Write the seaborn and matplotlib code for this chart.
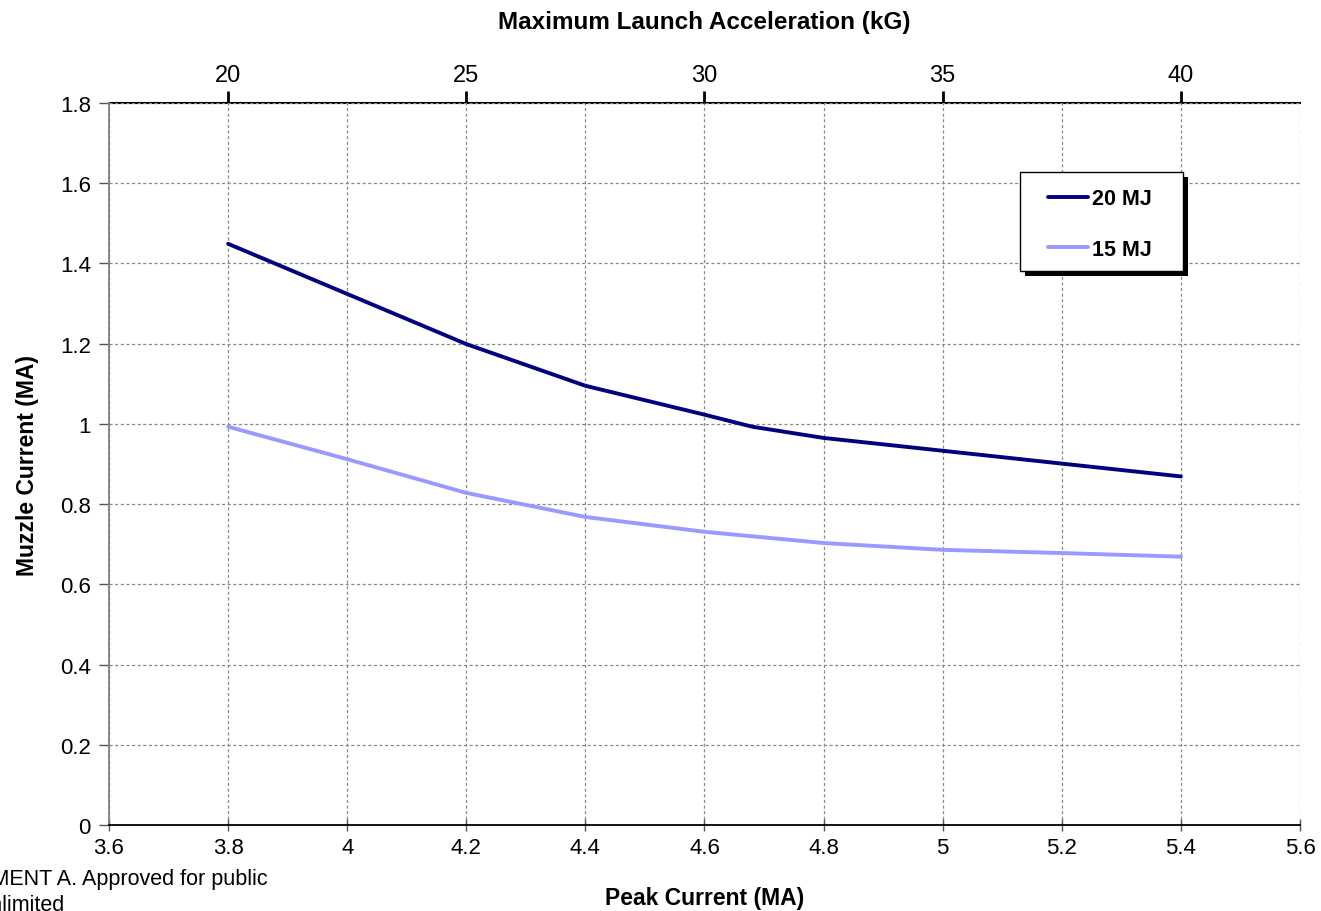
import numpy as np
import pandas as pd
import matplotlib
matplotlib.use("Agg")
import matplotlib.pyplot as plt
from matplotlib.patches import Rectangle
import seaborn as sns

# ---- data ----
peak_20mj = [3.8, 4.0, 4.2, 4.4, 4.6, 4.68, 4.8, 5.0, 5.2, 5.4]
muzzle_20mj = [1.449, 1.324, 1.199, 1.095, 1.023, 0.993, 0.965, 0.933, 0.901, 0.869]
peak_15mj = [3.8, 4.0, 4.2, 4.4, 4.6, 4.8, 5.0, 5.2, 5.4]
muzzle_15mj = [0.993, 0.912, 0.828, 0.768, 0.731, 0.703, 0.686, 0.678, 0.669]
series_names = ["20 MJ", "15 MJ"]
series_colors = ["#000080", "#9999FF"]
x_ticks = [3.6, 3.8, 4.0, 4.2, 4.4, 4.6, 4.8, 5.0, 5.2, 5.4, 5.6]
x_ticklabels = ["3.6", "3.8", "4", "4.2", "4.4", "4.6", "4.8", "5", "5.2", "5.4", "5.6"]
y_ticks = [0, 0.2, 0.4, 0.6, 0.8, 1.0, 1.2, 1.4, 1.6, 1.8]
y_ticklabels = ["0", "0.2", "0.4", "0.6", "0.8", "1", "1.2", "1.4", "1.6", "1.8"]
top_ticks = [20, 25, 30, 35, 40]

df = pd.concat([
    pd.DataFrame({"Peak": peak_20mj, "Muzzle": muzzle_20mj, "Series": series_names[0]}),
    pd.DataFrame({"Peak": peak_15mj, "Muzzle": muzzle_15mj, "Series": series_names[1]}),
], ignore_index=True)

sns.set_theme(style="white")
plt.rcParams["font.family"] = ["Liberation Sans", "DejaVu Sans"]
plt.rcParams["text.color"] = "black"
plt.rcParams["axes.labelcolor"] = "black"
plt.rcParams["xtick.labelcolor"] = "black"
plt.rcParams["ytick.labelcolor"] = "black"

W, H = 1321, 912
fig = plt.figure(figsize=(W / 100, H / 100), dpi=100)
AX_L, AX_R, AX_T, AX_B = 109, 1300, 104, 826
ax = fig.add_axes([AX_L / W, 1 - AX_B / H, (AX_R - AX_L) / W, (AX_B - AX_T) / H])

def ax_frac(px, py):
    return (px - AX_L) / (AX_R - AX_L), (AX_B - py) / (AX_B - AX_T)

sns.lineplot(data=df, x="Peak", y="Muzzle", hue="Series", hue_order=series_names,
             palette=series_colors, linewidth=2.8, sort=False, ax=ax, legend=True)

ax.set_xlim(3.6, 5.6)
ax.set_ylim(0, 1.8)
ax.set_xticks(x_ticks)
ax.set_xticklabels(x_ticklabels, fontsize=16)
ax.set_yticks(y_ticks)
ax.set_yticklabels(y_ticklabels, fontsize=16)
ax.tick_params(axis="x", direction="inout", length=9, width=1, color="#555555", pad=4,
               bottom=True, labelcolor="black")
ax.tick_params(axis="y", direction="out", length=7, width=1, color="#555555", pad=6,
               left=True, labelcolor="black")

ax.grid(True, color="#8a8a8a", linestyle=(0, (2.5, 2)), linewidth=0.9)
for s in ["top", "right"]:
    ax.spines[s].set_visible(False)
ax.spines["left"].set_color("#808080")
ax.spines["left"].set_linewidth(1.3)
ax.spines["bottom"].set_color("#000000")
ax.spines["bottom"].set_linewidth(1.3)

ax.set_xlabel("Peak Current (MA)", fontsize=16.5, fontweight="bold", labelpad=20, color="black")
ax.set_ylabel("Muzzle Current (MA)", fontsize=16.5, fontweight="bold", labelpad=15, color="black")

# top axis: maximum launch acceleration
def to_kg(x):
    return 20 + (np.asarray(x) - 3.8) * 12.5

def to_ma(g):
    return 3.8 + (np.asarray(g) - 20) / 12.5

top = ax.secondary_xaxis("top", functions=(to_kg, to_ma))
top.set_xticks(top_ticks)
top.set_xticklabels([str(t) for t in top_ticks], fontsize=17)
top.tick_params(axis="x", direction="out", length=9, width=2, color="black", pad=3,
                labelcolor="black")
top.spines["top"].set_color("black")
top.spines["top"].set_linewidth(1.5)
top.set_xlabel("Maximum Launch Acceleration (kG)", fontsize=17.5,
               fontweight="bold", labelpad=26, color="black")

# legend box with hard black shadow
bx0, by0 = ax_frac(1020, 272)
bx1, by1 = ax_frac(1183, 173)
sx, sy = 5 / (AX_R - AX_L), 5 / (AX_B - AX_T)
ax.add_patch(Rectangle((bx0 + sx, by0 - sy), bx1 - bx0, by1 - by0, transform=ax.transAxes,
                       facecolor="black", edgecolor="none", zorder=5, clip_on=False))
ax.add_patch(Rectangle((bx0, by0), bx1 - bx0, by1 - by0, transform=ax.transAxes,
                       facecolor="white", edgecolor="black", linewidth=1.0, zorder=6,
                       clip_on=False))
lx, ly = ax_frac(1048, 225)
leg = ax.legend(loc="center left", bbox_to_anchor=(lx, ly), borderaxespad=0, borderpad=0,
                frameon=False, prop={"weight": "bold", "size": 15.5}, handlelength=1.86,
                handletextpad=0.2, labelspacing=1.38)
leg.set_zorder(7)
for line in leg.get_lines():
    line.set_linewidth(2.8)

# cropped distribution statement
fig.text(268 / W, 1 - 880 / H, "DISTRIBUTION STATEMENT A. Approved for public",
         ha="right", va="center", fontsize=15.5, color="black")
fig.text(64 / W, 1 - 906 / H, "release; distribution unlimited",
         ha="right", va="center", fontsize=15.5, color="black")

fig.savefig("out.png", dpi=100)
